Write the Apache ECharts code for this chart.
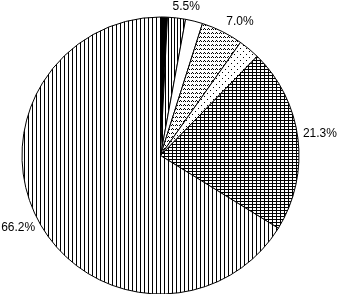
<!DOCTYPE html>
<html><head><meta charset="utf-8">
<script src="https://cdn.jsdelivr.net/npm/echarts@6/dist/echarts.min.js"></script>
<style>html,body{margin:0;padding:0;background:#fff}#c{width:339px;height:294px}</style>
</head><body><div id="c"></div>
<script>
// Data (clockwise from 12 o'clock)
const categories = ['A', 'B', 'C', 'D', 'E', 'F', 'G'];
const values = [0.8, 2.1, 2.0, 4.9, 2.5, 21.5, 66.2];
const labelTexts = ['', '5.5%', '', '7.0%', '', '21.3%', '66.2%'];

function tile(rows) {
  const h = rows.length, w = rows[0].length;
  const c = document.createElement('canvas');
  c.width = w; c.height = h;
  const g = c.getContext('2d');
  g.fillStyle = '#fff'; g.fillRect(0, 0, w, h);
  g.fillStyle = '#000';
  for (let y = 0; y < h; y++) for (let x = 0; x < w; x++) if (rows[y][x] === '#') g.fillRect(x, y, 1, 1);
  return { image: c, repeat: 'repeat' };
}
const fills = [
  '#000',
  tile(['#..']),
  '#fff',
  tile(['#...#...', '.#.#.#.#', '........', '........']),
  tile(['#.....', '......', '......', '...#..', '......', '......']),
  tile(['####', '#...', '#...']),
  tile(['#...'])
];
const lineLen = [9, 9, 9, 9, 9, 5, 5];
const labelShift = [[0, 0], [-5, -2], [0, 0], [0, -2], [0, 0], [0, -4], [0, 2]];

const chart = echarts.init(document.getElementById('c'), null, { renderer: 'canvas' });
chart.setOption({
  animation: false,
  series: [{
    type: 'pie',
    center: [160.5, 155.5],
    radius: 138.5,
    startAngle: 90,
    clockwise: true,
    avoidLabelOverlap: false,
    label: {
      show: true, position: 'outside', color: '#000',
      fontFamily: 'Liberation Sans, Arial, sans-serif', fontSize: 12,
      distanceToLabelLine: 0,
      formatter: p => labelTexts[p.dataIndex]
    },
    labelLine: { show: false, length: 9, length2: 0 },
    itemStyle: { borderColor: '#000', borderWidth: 1 },
    emphasis: { disabled: true },
    data: categories.map((n, i) => ({
      name: n, value: values[i],
      itemStyle: { color: fills[i] },
      label: { show: labelTexts[i] !== '', offset: labelShift[i] },
      labelLine: { length: lineLen[i] }
    }))
  }]
});
</script></body></html>
